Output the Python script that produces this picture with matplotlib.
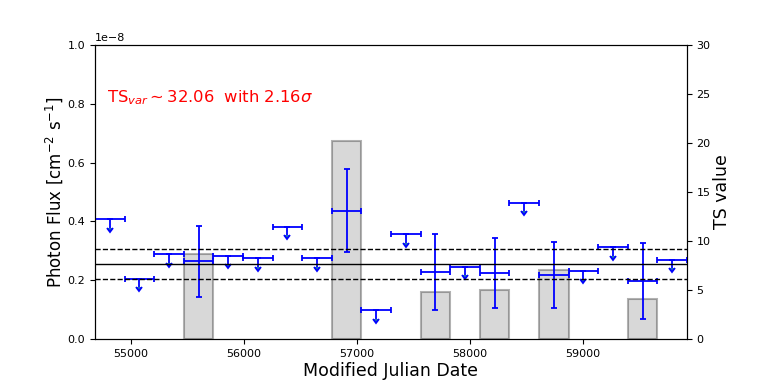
import numpy as np
import matplotlib
matplotlib.use("Agg")
import matplotlib.pyplot as plt

# Time bins (MJD centers) and half-width
mjd_center = [54813, 55075, 55337, 55599, 55861, 56123, 56385, 56647, 56909, 57171,
              57433, 57695, 57957, 58219, 58481, 58743, 59005, 59267, 59529, 59791]
half_width = 131

# Flux (1e-8 ph cm^-2 s^-1); is_ul marks upper limits
flux = [0.407, 0.205, 0.289, 0.264, 0.283, 0.274, 0.382, 0.274, 0.437, 0.097,
        0.357, 0.228, 0.245, 0.223, 0.464, 0.218, 0.232, 0.312, 0.198, 0.270]
flux_err = [0, 0, 0, 0.121, 0, 0, 0, 0, 0.140, 0,
            0, 0.130, 0, 0.119, 0, 0.112, 0, 0, 0.130, 0]
is_ul = [True, True, True, False, True, True, True, True, False, True,
         True, False, True, False, True, False, True, True, False, True]
# TS of detected bins (NaN for upper-limit bins)
ts = [np.nan, np.nan, np.nan, 8.7, np.nan, np.nan, np.nan, np.nan, 20.2, np.nan,
      np.nan, 4.8, np.nan, 5.0, np.nan, 7.0, np.nan, np.nan, 4.1, np.nan]

mean_flux = 0.255
mean_flux_err = 0.051
ts_var = 32.06
sigma = 2.16
scale = 1e-8

x = np.array(mjd_center, dtype=float)
f = np.array(flux) * scale
fe = np.array(flux_err) * scale
ul = np.array(is_ul)
tsa = np.array(ts)

fig = plt.figure(figsize=(7.63, 3.81), dpi=100)
ax1 = fig.add_axes([95/763, 42/381, (686.7-95)/763, (339-45)/381])
ax2 = ax1.twinx()
ax1.set_zorder(ax2.get_zorder() + 1)
ax1.patch.set_visible(False)

# TS bars
det = ~np.isnan(tsa)
ax2.bar(x[det], tsa[det], width=2*half_width, color='gray', alpha=0.3,
        edgecolor='black', linewidth=1.5)
ax2.set_ylim(0, 30)
ax2.set_ylabel('TS value', fontsize=12.5, labelpad=2)
ax2.tick_params(labelsize=8)

# detections
ax1.errorbar(x[~ul], f[~ul], xerr=half_width, yerr=fe[~ul], fmt='none',
             ecolor='blue', elinewidth=1.3, capsize=2, capthick=1.3)
# upper limits
ul_len = 0.029 * scale
ax1.errorbar(x[ul], f[ul], xerr=half_width, yerr=ul_len, uplims=True, fmt='none',
             ecolor='blue', elinewidth=1.3, capsize=2, capthick=1.3)

ax1.axhline(mean_flux * scale, color='black', lw=1)
ax1.axhline((mean_flux + mean_flux_err) * scale, color='black', lw=1, ls='--')
ax1.axhline((mean_flux - mean_flux_err) * scale, color='black', lw=1, ls='--')

ax1.set_xlim(54682, 59920)
ax1.set_ylim(0, 1e-8)
ax1.set_xlabel('Modified Julian Date', fontsize=12.5, labelpad=2)
ax1.set_ylabel(r'Photon Flux [cm$^{-2}$ s$^{-1}$]', fontsize=12, labelpad=2)
ax1.tick_params(labelsize=8)
ax1.yaxis.get_offset_text().set_fontsize(8)

ax1.text(0.02, 0.82, r'TS$_{var}\sim$' + f'{ts_var:.2f}  with {sigma:.2f}' + r'$\sigma$',
         transform=ax1.transAxes, color='red', fontsize=11.8, va='center')

fig.savefig('out.png', dpi=100)
